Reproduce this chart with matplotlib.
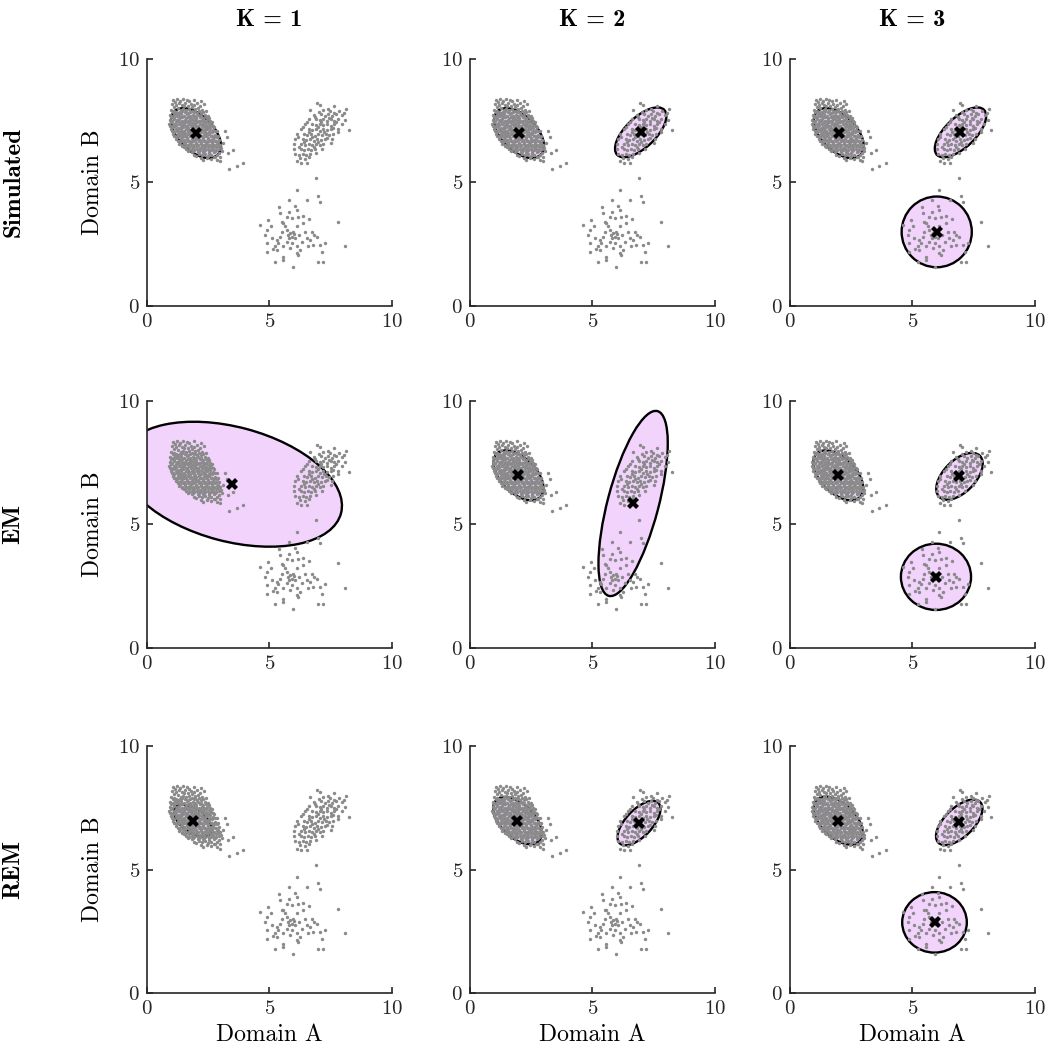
import matplotlib
matplotlib.use("Agg")
import matplotlib.pyplot as plt
from matplotlib.patches import Ellipse
import numpy as np

# --- data ----------------------------------------------------------------

METHODS = ["Simulated", "EM", "REM"]
K_VALUES = [1, 2, 3]

# dense cluster near (2, 7)
CLUSTER_A = [
    (1.08, 8.35), (1.22, 8.38), (1.35, 8.31), (1.48, 8.40), (1.62, 8.33), (1.90, 8.36), (2.22, 8.30),
    (1.15, 8.27), (1.71, 8.28),
    (1.02, 8.18), (1.18, 8.12), (1.30, 8.22), (1.41, 8.15), (1.55, 8.20), (1.66, 8.11), (1.78, 8.19),
    (1.93, 8.14), (2.05, 8.21), (2.18, 8.10), (2.31, 8.16), (1.12, 8.05), (1.50, 8.08), (1.85, 8.06),
    (2.10, 8.02),
    (0.98, 7.95), (1.10, 7.90), (1.25, 8.00), (1.38, 7.93), (1.46, 7.98), (1.60, 7.92), (1.72, 7.99),
    (1.84, 7.91), (1.97, 7.97), (2.12, 7.90), (2.25, 7.95), (2.40, 7.88), (1.20, 7.86), (1.33, 7.84),
    (1.55, 7.85), (1.68, 7.82), (1.90, 7.84), (2.05, 7.80), (2.20, 7.83),
    (0.95, 7.75), (1.05, 7.70), (1.15, 7.78), (1.28, 7.72), (1.40, 7.77), (1.52, 7.70), (1.63, 7.76),
    (1.75, 7.71), (1.86, 7.74), (1.98, 7.69), (2.10, 7.73), (2.22, 7.70), (2.35, 7.75), (2.48, 7.68),
    (1.10, 7.64), (1.35, 7.66), (1.58, 7.62), (1.80, 7.63), (2.02, 7.60), (2.28, 7.62), (2.55, 7.60),
    (0.92, 7.55), (1.02, 7.50), (1.12, 7.57), (1.23, 7.52), (1.32, 7.58), (1.44, 7.51), (1.55, 7.55),
    (1.67, 7.50), (1.77, 7.56), (1.88, 7.52), (2.00, 7.54), (2.12, 7.49), (2.23, 7.55), (2.34, 7.50),
    (2.45, 7.53), (2.58, 7.48), (1.18, 7.45), (1.40, 7.43), (1.62, 7.44), (1.84, 7.42), (2.06, 7.44),
    (2.30, 7.41), (2.52, 7.40),
    (0.90, 7.35), (1.00, 7.30), (1.10, 7.37), (1.20, 7.32), (1.30, 7.38), (1.42, 7.31), (1.52, 7.36),
    (1.63, 7.30), (1.73, 7.37), (1.85, 7.33), (1.95, 7.35), (2.07, 7.30), (2.18, 7.36), (2.30, 7.31),
    (2.41, 7.34), (2.52, 7.30), (2.63, 7.33), (1.05, 7.24), (1.26, 7.22), (1.48, 7.25), (1.68, 7.21),
    (1.90, 7.24), (2.12, 7.22), (2.36, 7.23), (2.58, 7.20), (2.75, 7.25),
    (0.97, 7.15), (1.08, 7.10), (1.17, 7.17), (1.28, 7.12), (1.38, 7.16), (1.50, 7.10), (1.60, 7.15),
    (1.71, 7.11), (1.82, 7.17), (1.93, 7.12), (2.03, 7.16), (2.14, 7.10), (2.25, 7.15), (2.36, 7.11),
    (2.47, 7.16), (2.58, 7.10), (2.70, 7.13), (2.85, 7.10), (1.12, 7.03), (1.34, 7.05), (1.55, 7.02),
    (1.77, 7.04), (1.98, 7.02), (2.20, 7.05), (2.42, 7.01), (2.65, 7.04), (3.18, 7.07),
    (1.05, 6.95), (1.16, 6.90), (1.26, 6.97), (1.37, 6.92), (1.47, 6.96), (1.58, 6.90), (1.68, 6.95),
    (1.80, 6.91), (1.90, 6.97), (2.01, 6.92), (2.12, 6.96), (2.22, 6.90), (2.33, 6.95), (2.44, 6.91),
    (2.55, 6.96), (2.66, 6.90), (2.78, 6.94), (2.90, 6.90), (1.22, 6.83), (1.43, 6.85), (1.64, 6.82),
    (1.86, 6.84), (2.07, 6.81), (2.28, 6.85), (2.50, 6.82), (2.72, 6.84), (3.27, 6.84),
    (1.18, 6.75), (1.30, 6.70), (1.40, 6.77), (1.51, 6.72), (1.62, 6.76), (1.73, 6.70), (1.84, 6.75),
    (1.95, 6.71), (2.05, 6.77), (2.16, 6.72), (2.27, 6.76), (2.38, 6.70), (2.48, 6.75), (2.60, 6.71),
    (2.70, 6.76), (2.82, 6.70), (2.94, 6.74), (1.35, 6.63), (1.56, 6.62), (1.78, 6.64), (2.00, 6.61),
    (2.22, 6.64), (2.44, 6.62), (2.66, 6.63), (2.88, 6.60), (3.11, 6.59),
    (1.32, 6.55), (1.44, 6.50), (1.55, 6.56), (1.66, 6.51), (1.77, 6.55), (1.88, 6.50), (1.99, 6.56),
    (2.10, 6.52), (2.20, 6.57), (2.31, 6.50), (2.42, 6.55), (2.53, 6.51), (2.64, 6.56), (2.75, 6.50),
    (2.86, 6.54), (2.98, 6.50), (1.50, 6.43), (1.72, 6.42), (1.94, 6.44), (2.16, 6.41), (2.38, 6.44),
    (2.60, 6.42), (2.82, 6.43), (3.04, 6.41),
    (1.60, 6.35), (1.72, 6.30), (1.83, 6.36), (1.94, 6.31), (2.05, 6.37), (2.16, 6.32), (2.27, 6.36),
    (2.38, 6.30), (2.49, 6.35), (2.60, 6.31), (2.71, 6.36), (2.82, 6.30), (2.93, 6.34), (3.05, 6.28),
    (3.52, 6.32), (1.85, 6.23), (2.08, 6.22), (2.30, 6.24), (2.52, 6.21), (2.74, 6.23), (2.96, 6.20),
    (3.32, 6.19),
    (1.90, 6.12), (2.02, 6.08), (2.14, 6.14), (2.26, 6.10), (2.38, 6.15), (2.50, 6.07), (2.62, 6.12),
    (2.74, 6.05), (2.86, 6.10), (3.00, 6.03), (2.20, 6.00), (2.45, 5.98), (2.77, 6.05), (2.62, 5.95),
    (2.97, 5.85), (3.36, 5.54), (3.66, 5.68), (3.93, 5.78), (2.30, 5.92), (2.85, 5.90),
    (1.05, 7.84), (1.28, 7.80), (1.45, 7.88), (1.76, 7.86), (1.98, 7.88), (2.30, 7.86),
    (1.00, 7.66), (1.22, 7.68), (1.45, 7.65), (1.69, 7.67), (1.92, 7.65), (2.15, 7.67), (2.40, 7.64),
    (0.98, 7.46), (1.28, 7.47), (1.52, 7.46), (1.74, 7.47), (1.96, 7.46), (2.18, 7.47), (2.42, 7.45),
    (2.64, 7.44),
    (0.95, 7.27), (1.15, 7.28), (1.37, 7.26), (1.58, 7.28), (1.79, 7.27), (2.01, 7.28), (2.24, 7.27),
    (2.46, 7.26), (2.69, 7.28),
    (1.02, 7.07), (1.23, 7.08), (1.44, 7.06), (1.66, 7.08), (1.87, 7.07), (2.09, 7.08), (2.31, 7.07),
    (2.53, 7.06), (2.76, 7.07),
    (1.10, 6.87), (1.32, 6.88), (1.53, 6.87), (1.74, 6.88), (1.96, 6.86), (2.17, 6.88), (2.39, 6.87),
    (2.61, 6.88), (2.84, 6.86),
    (1.25, 6.67), (1.46, 6.66), (1.67, 6.68), (1.89, 6.66), (2.11, 6.67), (2.33, 6.68), (2.55, 6.66),
    (2.77, 6.67),
    (1.42, 6.47), (1.61, 6.46), (1.83, 6.47), (2.05, 6.46), (2.26, 6.48), (2.48, 6.46), (2.70, 6.47),
    (2.92, 6.46),
    (1.67, 6.26), (1.89, 6.27), (2.11, 6.26), (2.33, 6.28), (2.55, 6.26), (2.77, 6.27),
]

# looser cluster near (7, 7)
CLUSTER_B = [
    (6.96, 8.22), (7.05, 8.12), (7.62, 8.08), (8.12, 7.97), (6.66, 7.95), (7.38, 7.98), (7.48, 7.88),
    (7.85, 7.90), (8.05, 7.81), (7.20, 7.92),
    (6.80, 7.75), (7.10, 7.78), (7.40, 7.77), (7.70, 7.76), (7.98, 7.74), (7.02, 7.85), (7.62, 7.83),
    (7.25, 7.70), (7.55, 7.70),
    (6.60, 7.56), (6.90, 7.58), (7.20, 7.57), (7.50, 7.56), (7.80, 7.57), (8.10, 7.55), (7.05, 7.52),
    (7.35, 7.50), (7.65, 7.51), (6.85, 7.64), (7.45, 7.63),
    (6.45, 7.35), (6.75, 7.37), (7.05, 7.38), (7.35, 7.36), (7.65, 7.37), (7.95, 7.36), (6.90, 7.32),
    (7.20, 7.31), (7.50, 7.30), (6.55, 7.44), (7.12, 7.43), (7.72, 7.44),
    (6.30, 7.15), (6.60, 7.17), (6.90, 7.16), (7.20, 7.15), (7.50, 7.17), (7.80, 7.16), (8.23, 7.14),
    (6.75, 7.12), (7.05, 7.10), (7.35, 7.11), (6.38, 7.24), (6.98, 7.23), (7.58, 7.22),
    (6.12, 6.95), (6.40, 6.97), (6.70, 6.96), (7.00, 6.95), (7.30, 6.97), (7.60, 6.96), (6.55, 6.92),
    (6.85, 6.90), (7.15, 6.91), (7.45, 6.92), (6.62, 7.05), (7.22, 7.05), (7.80, 7.04),
    (6.05, 6.75), (6.35, 6.77), (6.65, 6.76), (6.95, 6.75), (7.25, 6.77), (7.55, 6.76), (6.50, 6.72),
    (6.80, 6.70), (7.10, 6.71), (6.15, 6.84), (6.75, 6.83), (7.35, 6.82),
    (6.02, 6.55), (6.30, 6.57), (6.60, 6.56), (6.90, 6.55), (7.20, 6.56), (6.45, 6.52), (6.75, 6.50),
    (7.05, 6.51), (6.40, 6.65), (7.00, 6.65), (7.50, 6.60),
    (6.00, 6.35), (6.28, 6.37), (6.56, 6.36), (6.85, 6.35), (7.15, 6.36), (6.42, 6.32), (6.70, 6.30),
    (6.20, 6.44), (6.80, 6.43),
    (6.05, 6.15), (6.35, 6.17), (6.65, 6.16), (6.20, 6.10), (6.50, 6.12), (6.25, 6.00), (6.60, 6.02),
    (6.12, 5.85), (6.30, 5.78), (6.55, 5.80), (6.90, 6.20), (6.45, 5.95),
]

# sparse cluster near (6, 3)
CLUSTER_C = [
    (6.89, 5.18), (6.11, 4.70), (7.00, 4.46), (7.07, 4.23), (5.80, 4.30), (6.55, 4.30), (6.04, 4.05),
    (5.40, 4.00), (5.81, 3.82), (6.11, 3.89), (6.38, 3.65), (5.43, 3.76), (6.63, 3.51), (7.79, 3.42),
    (5.70, 3.62), (4.95, 3.49), (4.61, 3.28), (4.88, 3.08), (5.57, 3.35), (5.50, 3.01), (5.70, 3.08),
    (5.84, 2.97), (5.98, 3.01), (5.77, 2.88), (5.91, 2.81), (6.04, 2.74), (5.63, 3.22), (6.11, 3.22),
    (6.38, 3.35), (6.45, 3.01), (6.72, 3.01), (6.80, 2.88), (4.82, 2.88), (5.09, 2.74), (5.29, 2.68),
    (5.70, 2.61), (5.91, 2.54), (6.32, 2.61), (6.66, 2.68), (6.93, 2.81), (7.27, 2.57), (4.88, 2.54),
    (5.23, 2.41), (5.29, 2.27), (5.57, 2.41), (6.11, 2.41), (6.25, 2.27), (6.59, 2.41), (7.07, 2.47),
    (8.09, 2.41), (4.88, 2.20), (6.18, 2.07), (7.14, 2.20), (5.23, 1.80), (5.57, 1.86), (5.57, 2.00),
    (5.95, 1.57), (6.99, 1.77), (7.18, 1.80), (6.11, 2.14), (5.05, 3.22), (5.81, 2.74), (6.02, 2.92),
    (6.22, 2.88), (6.52, 2.74), (5.43, 2.81), (5.36, 2.57), (5.13, 2.30), (6.77, 2.47), (5.84, 2.34),
    (6.18, 3.62), (5.91, 3.55), (5.50, 3.38),
]

# fitted components per method, one list per K: centre and 2x2 contour matrix
SIM_MEANS = [
    [(2.00, 7.00)],
    [(2.00, 7.00), (6.97, 7.03)],
    [(2.00, 7.00), (6.97, 7.03), (6.00, 3.00)],
]
SIM_SHAPES = [
    [[[1.04, -0.525], [-0.525, 1.02]]],
    [[[1.04, -0.525], [-0.525, 1.02]], [[1.10, 0.69], [0.69, 1.02]]],
    [[[1.04, -0.525], [-0.525, 1.02]], [[1.10, 0.69], [0.69, 1.02]], [[2.05, 0.0], [0.0, 2.05]]],
]
EM_MEANS = [
    [(3.46, 6.63)],
    [(1.98, 6.99), (6.66, 5.85)],
    [(1.98, 6.99), (6.93, 6.95), (5.97, 2.88)],
]
EM_SHAPES = [
    [[[20.25, -3.92], [-3.92, 6.40]]],
    [[[1.04, -0.525], [-0.525, 1.02]], [[2.00, 3.45], [3.45, 14.06]]],
    [[[1.04, -0.525], [-0.525, 1.02]], [[0.90, 0.48], [0.48, 0.90]], [[2.05, 0.0], [0.0, 1.80]]],
]
REM_MEANS = [
    [(1.88, 6.98)],
    [(1.94, 6.98), (6.90, 6.88)],
    [(1.98, 6.98), (6.92, 6.91), (5.91, 2.86)],
]
REM_SHAPES = [
    [[[0.60, -0.27], [-0.27, 0.42]]],
    [[[0.98, -0.49], [-0.49, 0.92]], [[0.77, 0.50], [0.50, 0.81]]],
    [[[1.00, -0.50], [-0.50, 0.95]], [[0.90, 0.53], [0.53, 0.85]], [[1.74, 0.0], [0.0, 1.50]]],
]

TICKS = [0, 5, 10]

POINT_GREY = "#8a8a8a"
FILL = "#f1d3fc"
AXIS_GREY = "#262626"


def main():
    plt.rcParams["font.family"] = "cmr10"
    plt.rcParams["axes.formatter.use_mathtext"] = True
    plt.rcParams["mathtext.fontset"] = "cm"

    points = np.array(CLUSTER_A + CLUSTER_B + CLUSTER_C)
    means = [SIM_MEANS, EM_MEANS, REM_MEANS]
    shapes = [SIM_SHAPES, EM_SHAPES, REM_SHAPES]

    fig = plt.figure(figsize=(10.46, 10.5), dpi=100)
    lefts = [0.1405, 0.4493, 0.7550]
    bottoms = [0.7086, 0.3829, 0.0543]
    w, h = 0.2342, 0.2352

    for r, method in enumerate(METHODS):
        for c, k in enumerate(K_VALUES):
            ax = fig.add_axes([lefts[c], bottoms[r], w, h])
            for mu, shape in zip(means[r][c], shapes[r][c]):
                draw_ellipse(ax, mu, shape)
            ax.scatter(points[:, 0], points[:, 1], s=6, color=POINT_GREY,
                       linewidths=0, zorder=2)
            mu = np.array(means[r][c])
            ax.plot(mu[:, 0], mu[:, 1], "X", color="black", markersize=8,
                    markeredgewidth=0, zorder=3)
            style_axes(ax)
            if c == 0:
                ax.set_ylabel("Domain B", fontsize=17, labelpad=10)
            if r == 2:
                ax.set_xlabel("Domain A", fontsize=17, labelpad=4)
            if r == 0:
                fig.text(lefts[c] + w / 2, 0.981, f"K = {k}", family="cmb10",
                         fontsize=17.5, ha="center", va="center")
        fig.text(0.013, bottoms[r] + h / 2, method, family="cmb10", fontsize=18,
                 rotation=90, ha="center", va="center")

    fig.savefig("out.png", dpi=100)


def draw_ellipse(ax, mu, shape):
    vals, vecs = np.linalg.eigh(np.array(shape))
    major = vecs[:, 1]
    angle = np.degrees(np.arctan2(major[1], major[0]))
    e = Ellipse(mu, 2 * np.sqrt(vals[1]), 2 * np.sqrt(vals[0]), angle=angle,
                facecolor=FILL, edgecolor="black", linewidth=1.7, zorder=1)
    ax.add_patch(e)


def style_axes(ax):
    ax.set_xlim(0, 10)
    ax.set_ylim(0, 10)
    ax.set_xticks(TICKS)
    ax.set_yticks(TICKS)
    for side in ["top", "right"]:
        ax.spines[side].set_visible(False)
    for side in ["left", "bottom"]:
        ax.spines[side].set_color(AXIS_GREY)
        ax.spines[side].set_linewidth(1.2)
    ax.tick_params(direction="in", length=4, width=1.2, color=AXIS_GREY,
                   labelsize=15, labelcolor=AXIS_GREY, pad=5)


if __name__ == "__main__":
    main()
